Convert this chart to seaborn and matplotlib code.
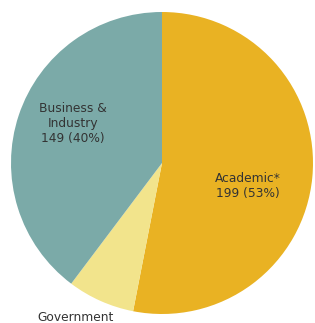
import matplotlib
matplotlib.use("Agg")
import matplotlib.pyplot as plt
import seaborn as sns

# data
sectors = ["Academic*", "Government", "Business &\nIndustry"]
counts = [199, 27, 149]
colors = ["#E9B223", "#F2E48C", "#7BAAA8"]

sns.set_theme(style="white")
plt.rcParams["font.family"] = ["DejaVu Sans"]

fig = plt.figure(figsize=(3.15, 3.23), dpi=100)
ax = fig.add_axes([10 / 315, 9 / 323, 304 / 315, 302 / 323])

palette = sns.color_palette(colors)
total = sum(counts)
ax.pie(counts, colors=palette, startangle=90, counterclock=False,
       radius=1, wedgeprops=dict(linewidth=0))
ax.set_aspect("equal")
ax.set_xlim(-1, 1)
ax.set_ylim(-1, 1)
ax.axis("off")

txt = dict(ha="center", va="center", fontsize=8.8, color="#333333",
           linespacing=1.2)
pct = [round(c / total * 100) for c in counts]
ax.text(0.57, -0.15, f"{sectors[0]}\n{counts[0]} ({pct[0]}%)", **txt)
ax.text(-0.59, 0.26, f"{sectors[2]}\n{counts[2]} ({pct[2]}%)", **txt)
ax.text(-0.57, -1.02, f"{sectors[1]}", clip_on=False, **txt)

fig.savefig("out.png", dpi=100)
